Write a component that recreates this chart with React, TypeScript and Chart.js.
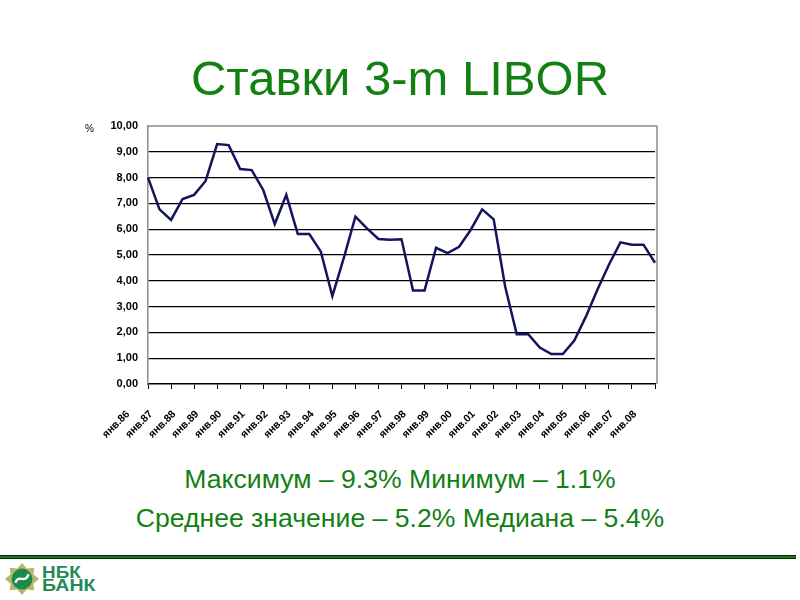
import React, { useEffect, useRef } from "react";
import { Chart, registerables } from "chart.js";
Chart.register(...registerables);

const categories: string[] = [
  "янв.86", "июл.86", "янв.87", "июл.87", "янв.88", "июл.88", "янв.89", "июл.89",
  "янв.90", "июл.90", "янв.91", "июл.91", "янв.92", "июл.92", "янв.93", "июл.93",
  "янв.94", "июл.94", "янв.95", "июл.95", "янв.96", "июл.96", "янв.97", "июл.97",
  "янв.98", "июл.98", "янв.99", "июл.99", "янв.00", "июл.00", "янв.01", "июл.01",
  "янв.02", "июл.02", "янв.03", "июл.03", "янв.04", "июл.04", "янв.05", "июл.05",
  "янв.06", "июл.06", "янв.07", "июл.07", "янв.08",
];

const liborValues: number[] = [
  8.0, 6.77, 6.36, 7.17, 7.33, 7.87, 9.3, 9.26, 8.33, 8.29,
  7.52, 6.2, 7.33, 5.81, 5.81, 5.13, 3.41, 4.9, 6.49, 6.03,
  5.62, 5.59, 5.61, 3.62, 3.62, 5.28, 5.07, 5.32, 5.97, 6.77,
  6.38, 3.77, 1.93, 1.93, 1.41, 1.16, 1.16, 1.68, 2.61, 3.65,
  4.62, 5.49, 5.4, 5.4, 4.7,
];

const tickLabels: string[] = [
  "янв.86", "янв.87", "янв.88", "янв.89", "янв.90", "янв.91", "янв.92", "янв.93",
  "янв.94", "янв.95", "янв.96", "янв.97", "янв.98", "янв.99", "янв.00", "янв.01",
  "янв.02", "янв.03", "янв.04", "янв.05", "янв.06", "янв.07", "янв.08",
];

const titleText = "Ставки 3-m LIBOR";
const statsLine1 = "Максимум – 9.3% Минимум – 1.1%";
const statsLine2 = "Среднее значение – 5.2% Медиана – 5.4%";
const unitLabel = "%";

const FONT = "'Liberation Sans', Arial, Helvetica, sans-serif";
const GREEN = "#138013";

const framePlugin = {
  id: "frame",
  afterDatasetsDraw(chart: any) {
    const { ctx, chartArea } = chart;
    ctx.save();
    ctx.strokeStyle = "#8c8c8c";
    ctx.lineWidth = 1.5;
    ctx.beginPath();
    ctx.moveTo(chartArea.left, chartArea.top);
    ctx.lineTo(chartArea.right + 2, chartArea.top);
    ctx.lineTo(chartArea.right + 2, chartArea.bottom);
    ctx.stroke();
    ctx.restore();
  },
};

function LiborChart() {
  const ref = useRef<HTMLCanvasElement | null>(null);
  useEffect(() => {
    if (!ref.current) return;
    const chart = new Chart(ref.current, {
      type: "line",
      data: {
        labels: categories,
        datasets: [
          {
            data: liborValues,
            borderColor: "#14145e",
            borderWidth: 2.5,
            pointRadius: 0,
            tension: 0,
            fill: false,
          },
        ],
      },
      options: {
        animation: false,
        responsive: true,
        maintainAspectRatio: false,
        layout: { padding: { left: 0, right: 800 - 655, top: 126, bottom: 0 } },
        plugins: { legend: { display: false }, tooltip: { enabled: false }, title: { display: false } },
        scales: {
          x: {
            type: "category",
            offset: false,
            afterFit: (s: any) => {
              s.height = 450 - 384;
            },
            grid: {
              drawOnChartArea: false,
              drawTicks: true,
              tickLength: 5,
              color: "#000",
              lineWidth: 1,
            },
            border: { display: true, color: "#000", width: 1.5 },
            ticks: {
              autoSkip: false,
              maxRotation: 45,
              minRotation: 45,
              padding: 19,
              labelOffset: -20,
              color: "#000",
              font: { family: FONT, size: 10.5, weight: "bold" },
              callback: (_v: any, i: number) => (i % 2 === 0 ? tickLabels[i / 2] : null),
            },
          },
          y: {
            min: 0,
            max: 10,
            afterFit: (s: any) => {
              s.width = 148;
            },
            grid: {
              drawTicks: false,
              color: (c: any) => (c.tick && (c.tick.value === 10 || c.tick.value === 0) ? "rgba(0,0,0,0)" : "#000"),
              lineWidth: 1.2,
            },
            border: { display: true, color: "#8c8c8c", width: 1.5 },
            ticks: {
              stepSize: 1,
              padding: 10,
              color: "#000",
              font: { family: FONT, size: 11, weight: "bold" },
              callback: (v: any) => Number(v).toFixed(2).replace(".", ","),
            },
          },
        },
      },
      plugins: [framePlugin],
    });
    return () => chart.destroy();
  }, []);
  return (
    <div style={{ position: "absolute", left: 0, top: 0, width: 800, height: 450 }}>
      <canvas ref={ref} />
    </div>
  );
}

function Logo() {
  const txt: React.CSSProperties = {
    position: "absolute",
    left: 38,
    fontFamily: FONT,
    fontWeight: "bold",
    fontSize: 16,
    lineHeight: "16px",
    color: "#1f8a55",
    transformOrigin: "0 0",
    whiteSpace: "nowrap",
  };
  return (
    <div style={{ position: "absolute", left: 4, top: 561, width: 110, height: 36 }}>
      <svg width="36" height="36" viewBox="0 0 38 36" style={{ position: "absolute", left: 0, top: 0 }}>
        <polygon points="19,1 24,7 32,6 31,13 37,18 31,23 32,30 24,29 19,35 14,29 6,30 7,23 1,18 7,13 6,6 14,7" fill="#b9b66a" />
        <circle cx="19" cy="18" r="11" fill="#1d8a4c" />
        <path d="M12,22 C16,12 22,24 26,13" stroke="#ffffff" strokeWidth="2.5" fill="none" />
      </svg>
      <div style={{ ...txt, top: 4, transform: "scaleX(1.18)" }}>НБК</div>
      <div style={{ ...txt, top: 17, transform: "scaleX(1.22)" }}>БАНК</div>
    </div>
  );
}

export default function App() {
  const center: React.CSSProperties = {
    position: "absolute",
    left: 0,
    width: 800,
    textAlign: "center",
    fontFamily: FONT,
    color: GREEN,
    whiteSpace: "nowrap",
  };
  return (
    <div style={{ position: "fixed", left: 0, top: 0, width: 800, height: 600, background: "#fff", overflow: "hidden" }}>
      <div style={{ ...center, top: 54, fontSize: 49, lineHeight: "49px" }}>{titleText}</div>
      <LiborChart />
      <div style={{ position: "absolute", left: 85, top: 124, fontFamily: FONT, fontSize: 10, lineHeight: "10px", color: "#000" }}>{unitLabel}</div>
      <div style={{ ...center, top: 466, fontSize: 26.6, lineHeight: "27px" }}>{statsLine1}</div>
      <div style={{ ...center, top: 505, fontSize: 26.6, lineHeight: "27px" }}>{statsLine2}</div>
      <div style={{ position: "absolute", left: 0, top: 555, width: 796, height: 2, background: "#177a17", borderTop: "1px solid #0b2a0b", borderBottom: "1px solid #0b2a0b" }} />
      <Logo />
    </div>
  );
}
